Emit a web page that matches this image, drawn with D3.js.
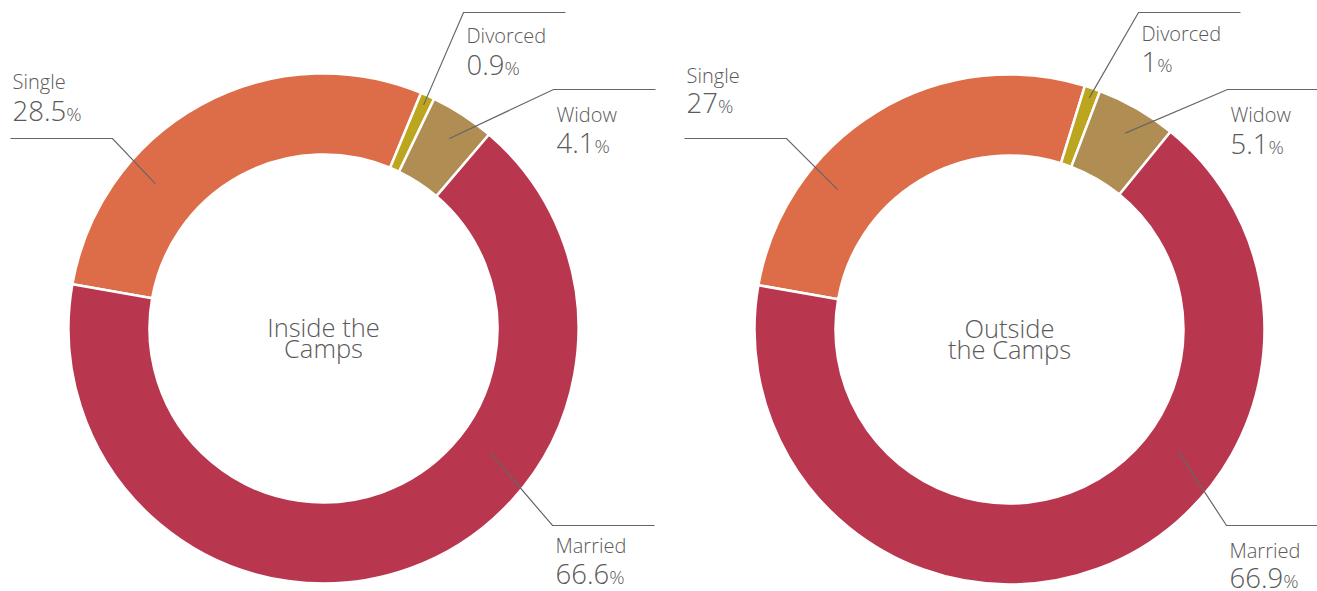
<!DOCTYPE html>
<html>
<head>
<meta charset="utf-8">
<script src="https://cdn.jsdelivr.net/npm/d3@7.9.0/dist/d3.min.js"></script>
<style>
  body { margin: 0; background: #fff; }
  svg text { font-family: "Open Sans", Lato, sans-serif; font-weight: 300; fill: #5a5a5a; }
</style>
</head>
<body>
<svg id="chart" width="1317" height="591"></svg>
<script>
// Data
const categories = ["Single", "Divorced", "Widow", "Married"];
const insideValues = [28.5, 0.9, 4.1, 66.6];
const outsideValues = [27, 1, 5.1, 66.9];
const centerTitles = [["Inside the", "Camps"], ["Outside", "the Camps"]];

const colors = d3.scaleOrdinal()
  .domain(categories)
  .range(["#dd6d48", "#bca51f", "#b08d53", "#b8364e"]);

const outerR = 255, innerR = 174;
const rad = Math.PI / 180;

const pie = d3.pie().sort(null).value(d => d.value)
  .startAngle(-80 * rad).endAngle(280 * rad);
const arc = d3.arc().innerRadius(innerR).outerRadius(outerR);

// where the leader line touches each slice: fraction along slice, radius
const anchors = {
  Single: [0.3, 222], Divorced: [0.5, 245], Widow: [0.53, 228], Married: [0.36, 208]
};

// label layout per chart (elbow relative to the donut centre)
const charts = [
  {
    values: insideValues, title: centerTitles[0], cx: 323.5, cy: 328.5,
    labels: {
      Single:   { ex: -211, ey: -190, left: true, nameDy: -50, valueDy: -18 },
      Divorced: { ex: 140, ey: -316, nameDy: 30, valueDy: 62 },
      Widow:    { ex: 230, ey: -239, nameDy: 32, valueDy: 63 },
      Married:  { ex: 229, ey: 197, nameDy: 27, valueDy: 58 }
    }
  },
  {
    values: outsideValues, title: centerTitles[1], cx: 1009.5, cy: 329.5,
    labels: {
      Single:   { ex: -223, ey: -191, left: true, nameDy: -56, valueDy: -26 },
      Divorced: { ex: 129, ey: -317, nameDy: 28, valueDy: 59 },
      Widow:    { ex: 218, ey: -240, nameDy: 32, valueDy: 64 },
      Married:  { ex: 217, ey: 196, nameDy: 32, valueDy: 62 }
    }
  }
];

const svg = d3.select("#chart");
const lineLen = 102;

charts.forEach(chart => {
  const data = categories.map((c, i) => ({ label: c, value: chart.values[i] }));
  const g = svg.append("g").attr("transform", `translate(${chart.cx},${chart.cy})`);

  const arcs = pie(data);

  g.selectAll("path.slice")
    .data(arcs)
    .join("path")
    .attr("class", "slice")
    .attr("d", arc)
    .attr("fill", d => colors(d.data.label))
    .attr("stroke", "#fff")
    .attr("stroke-width", 2.5);

  // centre title
  g.append("text")
    .attr("text-anchor", "middle")
    .attr("font-size", 25.5)
    .selectAll("tspan")
    .data(chart.title)
    .join("tspan")
    .attr("x", 0)
    .attr("y", (d, i) => 8 + i * 21.5)
    .text(d => d);

  // leader lines and labels
  arcs.forEach(a => {
    const lab = chart.labels[a.data.label];
    const [frac, r] = anchors[a.data.label];
    const ang = a.startAngle + frac * (a.endAngle - a.startAngle);
    const px = r * Math.sin(ang), py = -r * Math.cos(ang);
    const farX = lab.left ? lab.ex - lineLen : lab.ex + lineLen;

    g.append("polyline")
      .attr("points", `${px},${py} ${lab.ex},${lab.ey} ${farX},${lab.ey}`)
      .attr("fill", "none")
      .attr("stroke", "#666")
      .attr("stroke-width", 1.2);

    const tx = lab.left ? farX + 2 : lab.ex + 3;
    g.append("text")
      .attr("x", tx)
      .attr("y", lab.ey + lab.nameDy)
      .attr("font-size", 20)
      .text(a.data.label);

    const vt = g.append("text")
      .attr("x", tx)
      .attr("y", lab.ey + lab.valueDy)
      .attr("font-size", 27.5);
    vt.append("tspan").text(a.data.value);
    vt.append("tspan").attr("font-size", 19).text("%");
  });
});
</script>
</body>
</html>
